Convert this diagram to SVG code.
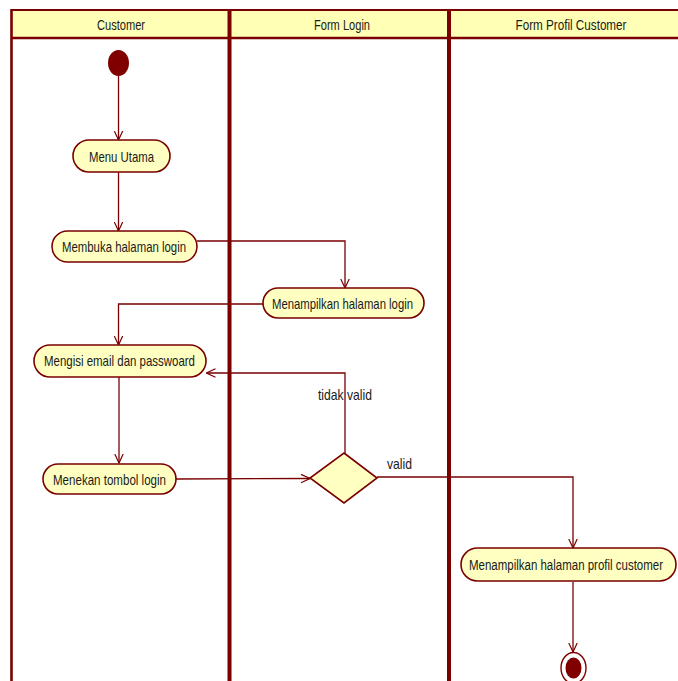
<svg xmlns="http://www.w3.org/2000/svg" width="678" height="681" viewBox="0 0 678 681">
  <style>
    .lane-head { fill: #FFFFB5; stroke: none; }
    .frame { stroke: #7A0000; fill: none; }
    .action { fill: #FFFFC2; stroke: #7A0000; stroke-width: 1.6; }
    .label { font-family: "Liberation Sans", Arial, sans-serif; font-size: 15px; fill: #1a1a1a; }
    .head-label { font-family: "Liberation Sans", Arial, sans-serif; font-size: 14px; fill: #1a1a1a; text-anchor: middle; }
    .flow { fill: none; stroke: #7A0000; stroke-width: 1.3; marker-end: url(#arrow); }
    .guard { font-family: "Liberation Sans", Arial, sans-serif; font-size: 15px; fill: #1a1a1a; }
  </style>
  <defs>
    <marker id="arrow" viewBox="0 0 10 10" refX="9.5" refY="5" markerWidth="10" markerHeight="10" markerUnits="userSpaceOnUse" orient="auto">
      <path d="M0.5,0.8 L9.5,5 L0.5,9.2" fill="none" stroke="#7A0000" stroke-width="1.2"/>
    </marker>
  </defs>

  <rect width="678" height="681" fill="#FFFFFF"/>

  <!-- swimlane frame -->
  <g id="lanes">
    <rect class="lane-head" x="11" y="10" width="667" height="28"/>
    <line class="frame" x1="11" y1="10" x2="678" y2="10" stroke-width="2.2"/>
    <line class="frame" x1="11" y1="38" x2="678" y2="38" stroke-width="2.6"/>
    <line class="frame" x1="11.5" y1="9" x2="11.5" y2="681" stroke-width="2.6"/>
    <line class="frame" x1="229.5" y1="9" x2="229.5" y2="681" stroke-width="4"/>
    <line class="frame" x1="449" y1="9" x2="449" y2="681" stroke-width="4"/>
    <text class="head-label" x="121" y="30" textLength="48" lengthAdjust="spacingAndGlyphs">Customer</text>
    <text class="head-label" x="342" y="30" textLength="56" lengthAdjust="spacingAndGlyphs">Form Login</text>
    <text class="head-label" x="571" y="30" textLength="111" lengthAdjust="spacingAndGlyphs">Form Profil Customer</text>
  </g>

  <!-- control flows -->
  <g id="connectors">
    <path class="flow" d="M118.5,76 L118.5,140"/>
    <path class="flow" d="M118.5,172 L118.5,231"/>
    <path class="flow" d="M197,241 L345,241 L345,288"/>
    <path class="flow" d="M263,304 L118.5,304 L118.5,345"/>
    <path class="flow" d="M119,377 L119,463"/>
    <path class="flow" d="M176,479 L310,478.5"/>
    <path class="flow" d="M345,453 L345,373 L206.5,373"/>
    <path class="flow" d="M377,477 L573,477 L573,548"/>
    <path class="flow" d="M573,582 L573,652"/>
    <text class="guard" x="318" y="400" textLength="54" lengthAdjust="spacingAndGlyphs">tidak valid</text>
    <text class="guard" x="387" y="469" textLength="25" lengthAdjust="spacingAndGlyphs">valid</text>
  </g>

  <g id="start">
    <ellipse cx="118.5" cy="63" rx="10.5" ry="13" fill="#800000"/>
  </g>

  <g id="menu-utama">
    <rect class="action" x="73" y="140" width="97" height="32" rx="16" ry="16"/>
    <text class="label" x="89" y="161.5" textLength="65" lengthAdjust="spacingAndGlyphs">Menu Utama</text>
  </g>

  <g id="membuka-login">
    <rect class="action" x="52" y="231" width="145" height="31" rx="15.5" ry="15.5"/>
    <text class="label" x="62" y="252" textLength="124" lengthAdjust="spacingAndGlyphs">Membuka halaman login</text>
  </g>

  <g id="menampilkan-login">
    <rect class="action" x="263" y="288" width="161" height="30" rx="15" ry="15"/>
    <text class="label" x="272" y="308.5" textLength="141" lengthAdjust="spacingAndGlyphs">Menampilkan halaman login</text>
  </g>

  <g id="mengisi">
    <rect class="action" x="34" y="345" width="172" height="32" rx="16" ry="16"/>
    <text class="label" x="44" y="366" textLength="151" lengthAdjust="spacingAndGlyphs">Mengisi email dan passwoard</text>
  </g>

  <g id="menekan-login">
    <rect class="action" x="43" y="464" width="133" height="30" rx="15" ry="15"/>
    <text class="label" x="53" y="484.5" textLength="113" lengthAdjust="spacingAndGlyphs">Menekan tombol login</text>
  </g>

  <g id="decision">
    <polygon class="action" points="344,453 377,478 344,503 310,478"/>
  </g>

  <g id="menampilkan-profil">
    <rect class="action" x="461" y="548" width="215" height="33" rx="16.5" ry="16.5"/>
    <!-- narrowed horizontally so the long label stays inside the lane -->
    <text class="label" transform="translate(469,570) scale(0.77,1)" x="0" y="0" textLength="252" lengthAdjust="spacingAndGlyphs">Menampilkan halaman profil customer</text>
  </g>

  <g id="end">
    <ellipse cx="573.5" cy="668" rx="12.5" ry="15.5" fill="#FFFFFF" stroke="#800000" stroke-width="1.4"/>
    <ellipse cx="573.5" cy="668" rx="8" ry="10.5" fill="#800000"/>
  </g>
</svg>
